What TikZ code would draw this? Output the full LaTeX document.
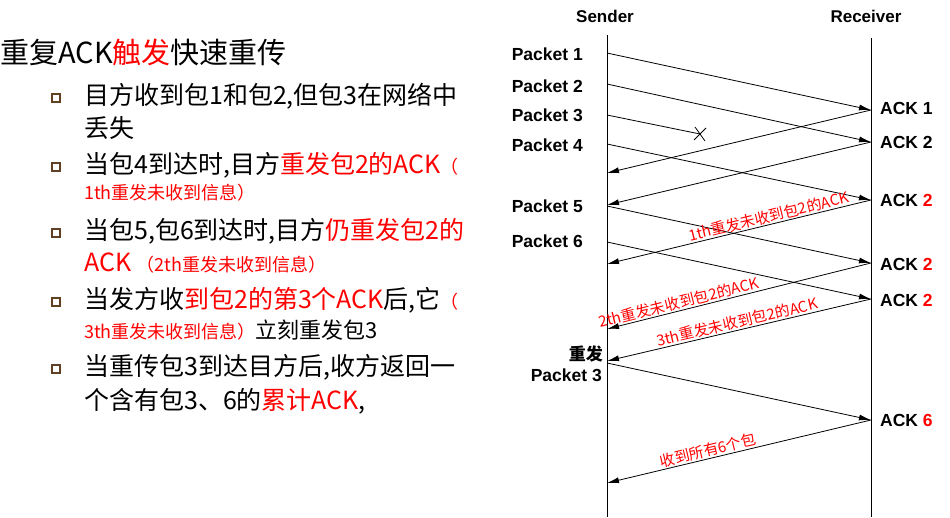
\documentclass[tikz,border=0pt]{standalone}
\usepackage{fontspec}
\setmainfont{Liberation Sans}
\newfontfamily\cjk{Noto Sans CJK SC}
\usetikzlibrary{arrows.meta,calc}
\definecolor{myred}{RGB}{255,0,0}
\begin{document}
\begin{tikzpicture}[x=1pt,y=-1pt,
  msg/.style={line width=0.8pt,-{Latex[length=12pt,width=6pt]}},
  life/.style={line width=0.8pt},
  lbl/.style={font=\bfseries\fontsize{17.5}{19}\selectfont,inner sep=1pt},
  note/.style={font=\cjk\fontsize{15}{16}\selectfont,text=myred,sloped,above,inner sep=1pt},
  line/.style={anchor=base west,inner sep=0pt,font=\cjk\fontsize{25}{27}\selectfont},
  bul/.style={draw=brown!50!black,line width=1.4pt,minimum size=8pt,inner sep=0pt}]
\useasboundingbox (0,0) rectangle (950,517);
% left text
\node[anchor=base west,inner sep=0pt,font=\cjk\fontsize{29}{31}\selectfont] (title) at (0,63) {重复ACK\textcolor{myred}{触发}快速重传};
\foreach \y/\n in {98/b1,167/b2,233/b3,302/b4,369/b5} \node[bul] (\n) at (56,\y) {};
\node[line] (l1) at (84,104) {目方收到包1和包2,但包3在网络中};
\node[line] (l2) at (84,137) {丢失};
\node[line] (l3) at (84,173) {当包4到达时,目方\textcolor{myred}{重发包2的ACK}{\color{myred}\fontsize{18}{20}\selectfont（}};
\node[line,font=\cjk\fontsize{18}{20}\selectfont,text=myred] (l4) at (84,199) {1th重发未收到信息）};
\node[line] (l5) at (84,239) {当包5,包6到达时,目方\textcolor{myred}{仍重发包2的}};
\node[line] (l6) at (84,271) {\textcolor{myred}{ACK}~{\color{myred}\fontsize{18}{20}\selectfont（2th重发未收到信息）}};
\node[line] (l7) at (84,308) {当发方收\textcolor{myred}{到包2的第3个ACK}后,它{\color{myred}\fontsize{18}{20}\selectfont（}};
\node[line] (l8) at (84,338) {{\color{myred}\fontsize{18}{20}\selectfont 3th重发未收到信息）}{\fontsize{22}{24}\selectfont 立刻重发包3}};
\node[line] (l9) at (84,375) {当重传包3到达目方后,收方返回一};
\node[line] (l10) at (84,409) {个含有包3、6的\textcolor{myred}{累计ACK},};
% headers
\node[lbl,font=\bfseries\fontsize{17}{19}\selectfont] (snd) at (605,16) {Sender};
\node[lbl,font=\bfseries\fontsize{17}{19}\selectfont] (rcv) at (866,16) {Receiver};
% lifelines
\coordinate (s0) at (607,35); \coordinate (s1) at (607,517);
\coordinate (r0) at (871,38); \coordinate (r1) at (871,517);
\draw[life] (s0) -- (s1); \draw[life] (r0) -- (r1);
% sender points
\foreach \n/\y in {p1/53,p2/84,p3/115,p4/144,p5/206,p6/242,a1s/173,a2s/205,a3s/264,a4s/329,a5s/361,rp/363,a6s/483}
  \coordinate (\n) at (607,\y);
\foreach \n/\y in {r1a/110,r2a/142,r3a/200,r4a/263,r5a/299,r6a/420}
  \coordinate (\n) at (871,\y);
\coordinate (lost) at (700,134);
% packet labels
\node[lbl,anchor=east] at (584,54) {Packet 1};
\node[lbl,anchor=east] at (584,86) {Packet 2};
\node[lbl,anchor=east] at (584,115) {Packet 3};
\node[lbl,anchor=east] at (584,145) {Packet 4};
\node[lbl,anchor=east] at (584,206) {Packet 5};
\node[lbl,anchor=east] at (584,241) {Packet 6};
\node[lbl,anchor=east,font=\cjk\bfseries\fontsize{17}{19}\selectfont] at (604,354) {重发};
\node[lbl,anchor=east] at (603,375) {Packet 3};
% ack labels
\node[lbl,anchor=west] at (879,108) {ACK 1};
\node[lbl,anchor=west] at (879,142) {ACK 2};
\node[lbl,anchor=west] at (879,200) {ACK \textcolor{myred}{2}};
\node[lbl,anchor=west] at (879,264) {ACK \textcolor{myred}{2}};
\node[lbl,anchor=west] at (879,300) {ACK \textcolor{myred}{2}};
\node[lbl,anchor=west] at (879,420) {ACK \textcolor{myred}{6}};
% messages
\draw[msg] (p1) -- (r1a);
\draw[msg] (p2) -- (r2a);
\draw[line width=0.8pt] (p3) -- (lost);
\draw[line width=0.8pt] ($(lost)+(-6,6)$) -- ($(lost)+(6,-6)$);
\draw[line width=0.8pt] ($(lost)+(-5,-7)$) -- ($(lost)+(5,7)$);
\draw[msg] (p4) -- (r3a);
\draw[msg] (p5) -- (r4a);
\draw[msg] (p6) -- (r5a);
\draw[msg] (r1a) -- (a1s);
\draw[msg] (r2a) -- (a2s);
\draw[msg] (r3a) -- node[note,pos=0.38] {1th重发未收到包2的ACK} (a3s);
\draw[msg] (r4a) -- node[note,pos=0.72] {2th重发未收到包2的ACK} (a4s);
\draw[msg] (r5a) -- node[note,pos=0.5] {3th重发未收到包2的ACK} (a5s);
\draw[msg] (rp) -- (r6a);
\draw[msg] (r6a) -- node[note,pos=0.61] {收到所有6个包} (a6s);
\end{tikzpicture}
\end{document}
